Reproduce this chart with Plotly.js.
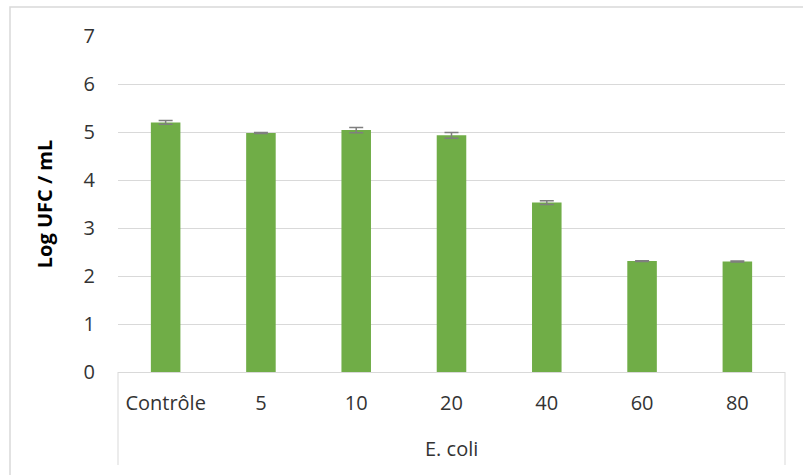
<!DOCTYPE html>
<html>
<head>
<meta charset="utf-8">
<script src="https://cdn.plot.ly/plotly-3.0.1.min.js"></script>
<style>html,body{margin:0;padding:0;background:#fff;}#chart{width:803px;height:475px;}</style>
</head>
<body>
<div id="chart"></div>
<script>
const groupLabel = "E. coli";
const categories = ["Contrôle", "5", "10", "20", "40", "60", "80"];
const values = [5.20, 4.98, 5.04, 4.93, 3.53, 2.31, 2.30];
const errors = [0.04, 0.01, 0.055, 0.06, 0.04, 0.01, 0.01];
const yTicks = [0, 1, 2, 3, 4, 5, 6, 7];

const W = 803, H = 475;
const m = {l: 118, r: 18, t: 36, b: 103};
const pw = W - m.l - m.r, ph = H - m.t - m.b;
const px = v => (v - m.l) / pw;
const py = v => (H - m.b - v) / ph;

const trace = {
  type: 'bar',
  x: categories,
  y: values,
  marker: {color: '#70ad47'},
  error_y: {type: 'data', array: errors, visible: true, color: '#7f7f7f', thickness: 1.5, width: 7},
  hoverinfo: 'skip'
};

const layout = {
  width: W, height: H,
  margin: m,
  paper_bgcolor: '#fff', plot_bgcolor: '#fff',
  showlegend: false,
  bargap: 0.69,
  font: {family: 'Open Sans, sans-serif', color: '#333', size: 20},
  xaxis: {
    type: 'category',
    showline: true, linecolor: '#d9d9d9', linewidth: 1,
    ticks: '', showgrid: false,
    ticklabelstandoff: 13,
    tickfont: {size: 20, color: '#333'}
  },
  yaxis: {
    range: [0, 7], tickvals: yTicks, ticktext: yTicks.map(String),
    showgrid: true, gridcolor: '#d9d9d9', gridwidth: 1,
    zeroline: false, showline: false, ticks: '',
    ticklabelstandoff: 22,
    tickfont: {size: 20, color: '#333'},
    title: {text: '<b>Log UFC / mL</b>', font: {size: 20, color: '#000'}, standoff: 25}
  },
  annotations: [{
    text: groupLabel, xref: 'paper', yref: 'paper', x: 0.5, y: py(448),
    showarrow: false, xanchor: 'center', yanchor: 'middle',
    font: {size: 20, color: '#333'}
  }],
  shapes: [
    {type: 'rect', xref: 'paper', yref: 'paper', layer: 'below',
     x0: px(10), x1: px(820), y0: py(490), y1: py(7),
     line: {color: '#d9d9d9', width: 1.5}},
    {type: 'line', xref: 'paper', yref: 'paper', x0: 0, x1: 0, y0: 0, y1: py(465),
     line: {color: '#d9d9d9', width: 1}},
    {type: 'line', xref: 'paper', yref: 'paper', x0: 1, x1: 1, y0: 0, y1: py(465),
     line: {color: '#d9d9d9', width: 1}}
  ]
};

Plotly.newPlot('chart', [trace], layout, {staticPlot: true, displayModeBar: false});
</script>
</body>
</html>
